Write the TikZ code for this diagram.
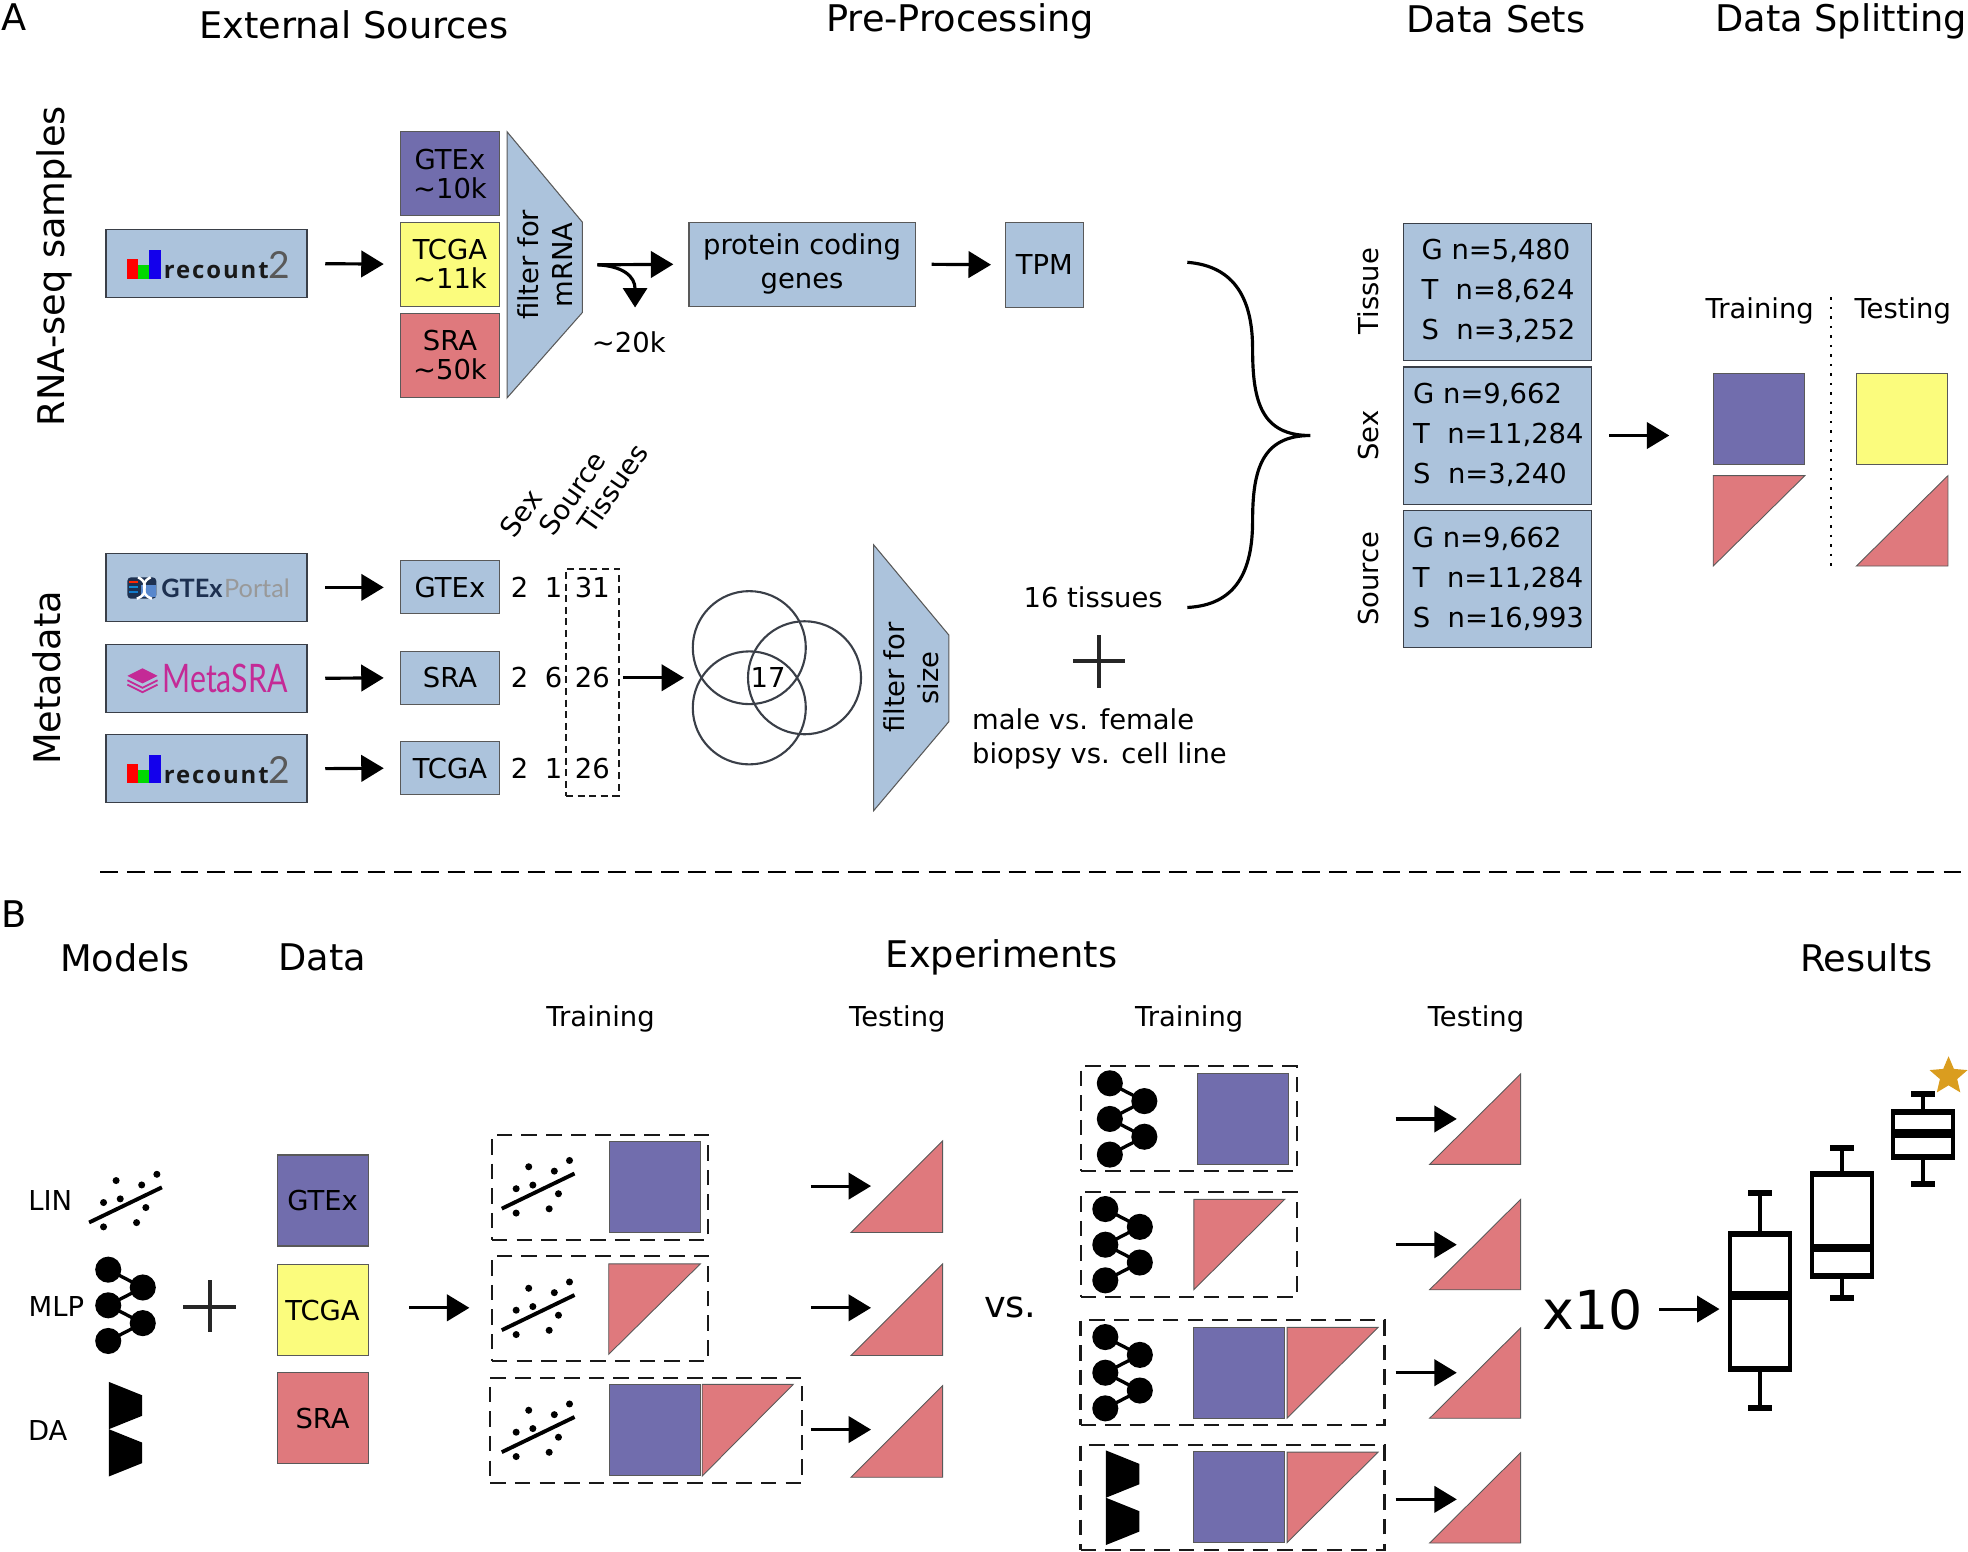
\documentclass[tikz,border=0pt]{standalone}
\usepackage{fontspec}
\setmainfont{DejaVu Sans}
\newfontfamily\logofont[LetterSpace=8]{Open Sans}
\newfontfamily\portalfont{Lato}
\usetikzlibrary{shapes.geometric, arrows.meta, positioning}
\definecolor{cGtex}{HTML}{716DAD}
\definecolor{cTcga}{HTML}{FBFC7D}
\definecolor{cSra}{HTML}{DF797D}
\definecolor{cBlue}{HTML}{ACC3DC}
\definecolor{cEdge}{HTML}{3A3F48}
\definecolor{cPink}{HTML}{C42A96}
\definecolor{cNavy}{HTML}{1D3050}
\definecolor{cStar}{HTML}{DA9D1F}
\newcommand{\labelsize}{\fontsize{7.8}{9.6}\selectfont}
\newcommand{\titlesize}{\fontsize{10.45}{12}\selectfont}
\tikzset{
  txt/.style={inner sep=0pt, font=\labelsize, align=center},
  heading/.style={inner sep=0pt, font=\titlesize, align=center},
  box/.style={rectangle, draw=black!65, line width=0.3pt, fill=cBlue, inner sep=0pt,
              font=\labelsize, align=center},
  logobox/.style={box, draw=cEdge, line width=0.4pt, minimum width=2.01cm, minimum height=0.68cm},
  srcbox/.style={box, minimum width=0.99cm, minimum height=0.84cm, font=\fontsize{7.8}{8.2}\selectfont},
  metabox/.style={box, minimum width=0.99cm, minimum height=0.53cm},
  setbox/.style={box, draw=cEdge, minimum width=1.88cm, minimum height=1.37cm, font=\fontsize{7.8}{11.4}\selectfont},
  tile/.style={box, minimum width=0.91cm, minimum height=0.91cm},
  tri/.style={fill=cSra, draw=black!65, line width=0.25pt},
  dashbox/.style={rectangle, draw=black!90, line width=0.6pt, dash pattern=on 4.4pt off 2.6pt, inner sep=0pt},
  bigarrow/.style={-{Triangle[length=6.4pt,width=7.5pt]}, line width=0.9pt},
  venn/.style={circle, draw=cEdge, line width=0.6pt, minimum size=1.13cm, inner sep=0pt},
  pics/linicon/.style={code={
    \foreach \x/\y in {-17.5/-1.9, -4.2/-4.8, -7.5/-19.4, 12.9/-15.9, 25/-24.4, 16.2/2.1, -17.5/17.5, 8.8/14.1}
      \fill (\x,\y) circle (2.8);
    \draw[line width=1.1pt] (-29,14) -- (29,-14);
  }},
  pics/mlpicon/.style={code={
    \draw[line width=0.95pt] (-13.75,-28.4) -- (13.75,-14.2) -- (-13.75,0) -- (13.75,14.2) -- (-13.75,28.4);
    \foreach \x/\y in {-13.75/-28.4, 13.75/-14.2, -13.75/0, 13.75/14.2, -13.75/28.4}
      \fill (\x,\y) circle (10.4);
  }},
  pics/daicon/.style={code={
    \fill (-13.3,-37.7) -- (13.3,-27) -- (13.3,-10.7) -- (-13.3,0) -- (13.3,10.7) -- (13.3,27) -- (-13.3,37.7) -- cycle;
  }},
  pics/recountlogo/.style={code={
    \fill[red] (-62.5,-3.5) rectangle (-54,12);
    \fill[green!85!black] (-54,1.5) rectangle (-45,12);
    \fill[blue!85!violet] (-45,-10.5) rectangle (-36,12);
    \node[inner sep=0pt, anchor=base west, font=\fontsize{6.8}{10}\logofont\bfseries, text=black!90] (-word) at (-34,12) {recount};
    \node[inner sep=0pt, anchor=base west, font=\fontsize{10.6}{12}\portalfont, text=black!65] (-two) at (49,12) {2};
  }},
}
\begin{document}
\begin{tikzpicture}[x=0.12551mm, y=-0.12551mm]
  \useasboundingbox (0,0) rectangle (1568,1236);
  % Panel A headings
  \node[heading] (panelA) at (11,14) {A};
  \node[heading] (headExt) at (282,20) {External Sources};
  \node[heading] (headPre) at (765,17) {Pre-Processing};
  \node[heading] (headSets) at (1192,15) {Data Sets};
  \node[heading] (headSplit) at (1467,17) {Data Splitting};
  \node[heading, rotate=90] (headRna) at (43,212) {RNA-seq samples};
  \node[heading, rotate=90] (headMeta) at (37,540) {Metadata};

  % RNA-seq row
  \node[logobox] (recountA) at (164.5,210) {};
  \pic (logoA) at (164,210) {recountlogo};
  \node[srcbox, fill=cGtex] (srcG) at (358.5,138.5) {GTEx\\\textasciitilde10k};
  \node[srcbox, fill=cTcga] (srcT) at (358.5,210.5) {TCGA\\\textasciitilde11k};
  \node[srcbox, fill=cSra] (srcS) at (358.5,283) {SRA\\\textasciitilde50k};
  \draw[line width=0.3pt, draw=black!65, fill=cBlue] (404,105) -- (464,177) -- (464,249) -- (404,317) -- cycle;
  \node[txt, rotate=90] (filterMrna) at (434,211) {filter for\\mRNA};
  \node[box, minimum width=2.26cm, minimum height=0.84cm] (protein) at (639,210.5) {protein coding\\genes};
  \node[box, minimum width=0.78cm, minimum height=0.85cm] (tpm) at (832,211) {TPM};
  \node[txt] (lost) at (501,273) {\textasciitilde20k};
  \coordinate (mrnaOut) at (476,211);
  \coordinate (lostIn) at (506,245);
  \draw[bigarrow, shorten <=5pt, shorten >=4.6pt] (recountA.east) -- (srcT.west);
  \draw[bigarrow, shorten >=4.3pt] (mrnaOut) -- (protein.west);
  \draw[-{Triangle[length=5.5pt,width=6.8pt]}, line width=0.9pt] (mrnaOut) .. controls (496,212) and (506,220) .. (lostIn);
  \draw[bigarrow, shorten <=4.6pt, shorten >=3.9pt] (protein.east) -- (tpm.west);

  % Metadata rows
  \node[logobox] (portal) at (164.5,468) {};
  \fill[cNavy, rounded corners=1pt] (101.5,460) rectangle (124.5,477);
  \foreach \y/\c in {463/red!70!orange, 467/cyan!70!blue, 471/cyan!60!blue}
    \fill[\c] (102.5,\y) rectangle (110,\y+1.6);
  \fill[cyan!45!blue!70] (112,466) rectangle (124,476);
  \draw[white, line width=0.7pt] (120,460) .. controls (108,466) and (122,472) .. (109,477);
  \draw[white, line width=0.7pt] (110,460) .. controls (122,466) and (108,472) .. (121,477);
  \node[inner sep=0pt, anchor=base west, font=\fontsize{7.2}{10}\portalfont\bfseries, text=cNavy] (portalA) at (128,476) {GTEx};
  \node[inner sep=0pt, anchor=base west, font=\fontsize{7.2}{10}\portalfont, text=black!40] (portalB) at (178,476) {Portal};
  \node[logobox] (metasra) at (164.5,540.5) {};
  \fill[cPink] (101.5,538.5) -- (113.5,532.5) -- (125.5,538.5) -- (113.5,544.5) -- cycle;
  \foreach \y in {0,3.5}
    \draw[cPink, line width=0.5pt] (101.5,542+\y) -- (113.5,548+\y) -- (125.5,542+\y);
  \node[inner sep=0pt, anchor=base west, font=\fontsize{8.6}{10}\portalfont, text=cPink] (metaword) at (129,552) {\scalebox{1}[1.3]{MetaSRA}};
  \node[logobox] (recountB) at (164.5,612.5) {};
  \pic (logoB) at (164,612) {recountlogo};
  \node[metabox] (metaG) at (358.5,468) {GTEx};
  \node[metabox] (metaS) at (358.5,540) {SRA};
  \node[metabox] (metaT) at (358.5,612) {TCGA};
  \foreach \a/\b in {portal/metaG, metasra/metaS, recountB/metaT}
    \draw[bigarrow, shorten <=5pt, shorten >=4.6pt] (\a.east) -- (\b.west);
  \foreach \n/\y/\sx/\so/\ti in {a/468/2/1/31, b/540/2/6/26, c/612/2/1/26}{
    \node[txt] (sex\n) at (414,\y) {\sx};
    \node[txt] (src\n) at (441,\y) {\so};
    \node[txt] (tis\n) at (472,\y) {\ti};
  }
  \node[txt, rotate=55] (colSex) at (415,409) {Sex};
  \node[txt, rotate=55] (colSrc) at (456,393) {Source};
  \node[txt, rotate=55] (colTis) at (488,389) {Tissues};
  \node[dashbox, dash pattern=on 2pt off 1.3pt, minimum width=0.53cm, minimum height=2.27cm] (tisbox) at (472,543.5) {};
  \node[venn] (vennA) at (597,516) {};
  \node[venn] (vennB) at (641,540) {};
  \node[venn] (vennC) at (597,564) {};
  \node[txt] (overlap) at (612,540) {17};
  \coordinate (vennIn) at (545,540);
  \draw[bigarrow, shorten <=3.5pt] (tisb.east) -- (vennIn);
  \draw[line width=0.3pt, draw=black!65, fill=cBlue] (696,434) -- (756,506) -- (756,575) -- (696,646) -- cycle;
  \node[txt, rotate=90] (filterSize) at (726,540) {filter for\\size};
  \node[txt] (tissues) at (871,476) {16 tissues};
  \draw[line width=1.15pt, black!85] (855,527) -- (896,527) (875.5,506) -- (875.5,548);
  \node[txt, align=left, anchor=west] (contrast) at (774,589) {male vs. female\\biopsy vs. cell line};

  % Data sets and the split
  \draw[line width=0.9pt] (946,209) .. controls (985,212) and (998,240) .. (998,278)
    .. controls (998,320) and (1005,347) .. (1044,347)
    .. controls (1005,347) and (998,375) .. (998,415)
    .. controls (998,455) and (985,482) .. (946,484);
  \node[txt, rotate=90] (rowTissue) at (1090,232) {Tissue};
  \node[txt, rotate=90] (rowSex) at (1090,347) {Sex};
  \node[txt, rotate=90] (rowSource) at (1090,461) {Source};
  \node[setbox] (setTissue) at (1193,232.5) {\hspace{0.6pt}\raisebox{-0.35pt}{\begin{tabular}{@{}l@{}}G n=5,480\\T\ \ n=8,624\\S\ \ n=3,252\end{tabular}}};
  \node[setbox] (setSex) at (1193,347) {\hspace{0.6pt}\raisebox{-0.35pt}{\begin{tabular}{@{}l@{}}G n=9,662\\T\ \ n=11,284\\S\ \ n=3,240\end{tabular}}};
  \node[setbox] (setSource) at (1193,461.5) {\hspace{0.6pt}\raisebox{-0.35pt}{\begin{tabular}{@{}l@{}}G n=9,662\\T\ \ n=11,284\\S\ \ n=16,993\end{tabular}}};
  \coordinate (splitIn) at (1330,347);
  \draw[bigarrow, shorten <=5pt] (setSex.east) -- (splitIn);
  \node[txt] (splitTrain) at (1402,248) {Training};
  \node[txt] (splitTest) at (1516,248) {Testing};
  \draw[dotted, line width=0.7pt] (1459,237) -- (1459,453);
  \node[tile, fill=cGtex] (splitG) at (1401.5,334) {};
  \node[tile, fill=cTcga] (splitT) at (1515.5,334) {};
  \draw[tri] (1365,379) -- (1438,379) -- (1365,451) -- cycle;
  \draw[tri] (1552,379) -- (1552,451) -- (1479,451) -- cycle;

  \draw[line width=0.55pt, dash pattern=on 5pt off 2.6pt] (80,695) -- (1568,695);

  % Panel B headings
  \node[heading] (panelB) at (11,728) {B};
  \node[heading] (headModels) at (99.5,763) {Models};
  \node[heading] (headData) at (257,763) {Data};
  \node[heading] (headExp) at (798,763) {Experiments};
  \node[heading] (headRes) at (1487,763) {Results};
  \foreach \n/\x/\t in {a/478.5/Training, b/715/Testing, c/947.5/Training, d/1176/Testing}
    \node[txt] (phase\n) at (\x,811.5) {\t};

  % Models and data
  \node[txt] (nameLin) at (40,956.5) {LIN};
  \node[txt] (nameMlp) at (45,1041) {MLP};
  \node[txt] (nameDa) at (38,1140) {DA};
  \pic at (100,960) {linicon};
  \pic at (100,1040) {mlpicon};
  \pic at (100,1138.7) {daicon};
  \draw[line width=1.15pt, black!85] (146,1041) -- (188,1041) (167,1020) -- (167,1061);
  \node[tile, fill=cGtex] (dataG) at (257,956.5) {GTEx};
  \node[tile, fill=cTcga] (dataT) at (257,1044) {TCGA};
  \node[tile, fill=cSra] (dataS) at (257,1130) {SRA};
  \coordinate (dataOut) at (326,1042);
  \coordinate (trainIn) at (374,1042);
  \draw[bigarrow] (dataOut) -- (trainIn);

  % Left experiment
  \node[dashbox, minimum width=2.16cm, minimum height=1.05cm] (linG) at (478,946) {};
  \node[dashbox, minimum width=2.16cm, minimum height=1.05cm] (linS) at (478,1042.5) {};
  \node[dashbox, minimum width=3.12cm, minimum height=1.05cm] (linGS) at (515,1139.5) {};
  \foreach \y in {949,1045.8,1143}
    \pic at (428.75,\y) {linicon};
  \node[tile, fill=cGtex] (sqA) at (521.5,945.5) {};
  \draw[tri] (485,1007) -- (558,1007) -- (485,1079) -- cycle;
  \node[tile, fill=cGtex] (sqB) at (521.5,1139.5) {};
  \draw[tri] (559.5,1103) -- (632,1103) -- (559.5,1176) -- cycle;
  \foreach \n/\y in {a/945, b/1042, c/1139}{
    \coordinate (outL\n) at (646,\y);
    \coordinate (testL\n) at (694,\y);
    \draw[bigarrow] (outL\n) -- (testL\n);
  }
  \foreach \t in {909, 1007, 1104}
    \draw[tri] (678,\t+73) -- (751,\t+73) -- (751,\t) -- cycle;
  \node[heading] (versus) at (805,1042) {vs.};

  % Right experiment
  \node[dashbox, minimum width=2.16cm, minimum height=1.05cm] (mlpG) at (947,891.5) {};
  \node[dashbox, minimum width=2.16cm, minimum height=1.05cm] (mlpS) at (947,991.5) {};
  \node[dashbox, minimum width=3.04cm, minimum height=1.05cm] (mlpGS) at (982,1093.7) {};
  \node[dashbox, minimum width=3.04cm, minimum height=1.05cm] (daGS) at (982,1193.3) {};
  \pic at (898,891.5) {mlpicon};
  \pic at (894.4,991.7) {mlpicon};
  \pic at (894.4,1093.7) {mlpicon};
  \pic at (894.4,1193.3) {daicon};
  \node[tile, fill=cGtex] (sqC) at (990.5,891.7) {};
  \draw[tri] (951.2,955.6) -- (1023.6,955.6) -- (951.2,1027.5) -- cycle;
  \node[tile, fill=cGtex] (sqD) at (987.5,1093.7) {};
  \draw[tri] (1025.5,1057.6) -- (1098,1057.6) -- (1025.5,1129.8) -- cycle;
  \node[tile, fill=cGtex] (sqE) at (987.5,1193) {};
  \draw[tri] (1025.5,1157) -- (1098,1157) -- (1025.5,1229) -- cycle;
  \foreach \n/\y in {a/891.5, b/991.7, c/1093.7, d/1194.6}{
    \coordinate (outR\n) at (1112,\y);
    \coordinate (testR\n) at (1160.7,\y);
    \draw[bigarrow] (outR\n) -- (testR\n);
  }
  \foreach \t in {855.7, 955.6, 1058, 1157.4}
    \draw[tri] (1139,\t+72) -- (1211.5,\t+72) -- (1211.5,\t) -- cycle;

  % Results
  \node[inner sep=0pt, font=\fontsize{15.3}{18}\selectfont] (repeats) at (1269,1044) {x10};
  \coordinate (plotOut) at (1322,1043);
  \coordinate (plotIn) at (1370,1043);
  \draw[bigarrow] (plotOut) -- (plotIn);
  \foreach \x/\t/\b/\m/\u/\l in {1402.5/980.8/1093.4/1032/950.8/1121.5, 1467.5/932.7/1019/994.3/915/1034.4, 1532.4/883.8/924/903.2/871.4/943.6}{
    \draw[line width=1.14pt] (\x,\u) -- (\x,\l);
    \fill ({\x-9.6},{\u-2.4}) rectangle ({\x+9.6},{\u+2.4});
    \fill ({\x-9.6},{\l-2.4}) rectangle ({\x+9.6},{\l+2.4});
    \fill ({\x-25.5},\t) rectangle ({\x+25.5},\b);
    \fill[white] ({\x-22.3},{\t+4.8}) rectangle ({\x+22.3},{\b-4.8});
    \fill ({\x-25.5},{\m-3.5}) rectangle ({\x+25.5},{\m+3.5});
  }
  \node[star, star points=5, star point ratio=2.2, fill=cStar, inner sep=0pt, minimum size=0.4cm] (best) at (1552.5,857.5) {};
\end{tikzpicture}
\end{document}
